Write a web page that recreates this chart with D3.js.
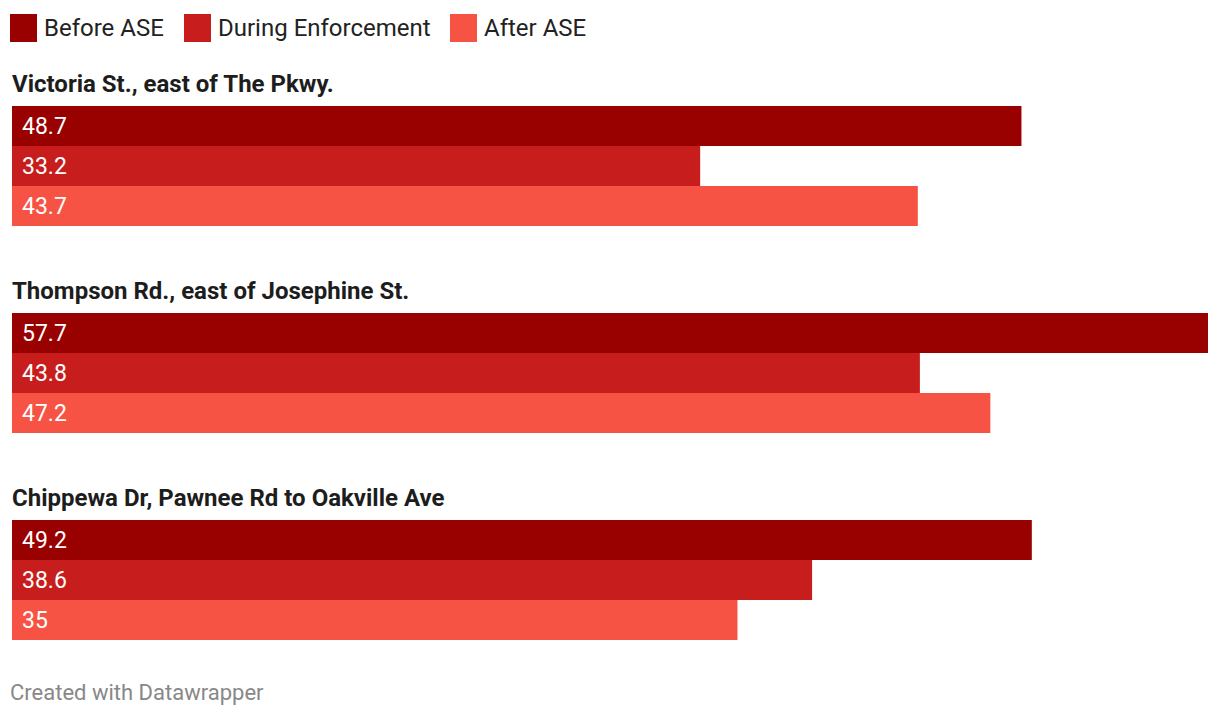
<!DOCTYPE html>
<html><head><meta charset="utf-8">
<script src="https://cdn.jsdelivr.net/npm/d3@7"></script>
<style>body{margin:0;background:#fff;font-family:Roboto,sans-serif}</style>
</head><body>
<svg id="c" width="1220" height="716"></svg>
<script>
const categories = ["Victoria St., east of The Pkwy.", "Thompson Rd., east of Josephine St.", "Chippewa Dr, Pawnee Rd to Oakville Ave"];
const seriesNames = ["Before ASE", "During Enforcement", "After ASE"];
const before = [48.7, 57.7, 49.2];
const during = [33.2, 43.8, 38.6];
const after = [43.7, 47.2, 35];
const colors = ["#990000", "#c71e1d", "#f65344"];

const series = [before, during, after];
const svg = d3.select("#c");
const x = d3.scaleLinear().domain([0, 57.7]).range([12, 1208]);
const groupY = d3.scalePoint().domain(categories).range([106, 520]);
const barY = d3.scaleBand().domain(seriesNames).range([0, 120]).padding(0);

// legend
const legendX = [10, 184, 450];
const lg = svg.selectAll("g.leg").data(seriesNames).join("g").attr("class","leg")
  .attr("transform", (d,i)=>`translate(${legendX[i]},14)`);
lg.append("rect").attr("width",27).attr("height",28).attr("fill",(d,i)=>colors[i]);
lg.append("text").attr("x",34).attr("y",22).attr("font-size",24).attr("fill","#222").text(d=>d);

const g = svg.selectAll("g.grp").data(categories).join("g").attr("class","grp")
  .attr("transform", d=>`translate(0,${groupY(d)})`);
g.append("text").attr("x",12).attr("y",-14).attr("font-size",24).attr("font-weight","bold").attr("fill","#1d1d1d").text(d=>d);
g.each(function(cat, ci){
  const sel = d3.select(this);
  const rows = seriesNames.map((s,si)=>({s, v: series[si][ci], c: colors[si]}));
  sel.selectAll("rect").data(rows).join("rect")
    .attr("x", x(0)).attr("y", d=>barY(d.s)).attr("width", d=>x(d.v)-x(0)).attr("height", barY.bandwidth())
    .attr("fill", d=>d.c);
  sel.selectAll("text.val").data(rows).join("text").attr("class","val")
    .attr("x", 22).attr("y", d=>barY(d.s)+barY.bandwidth()/2).attr("dy","0.35em")
    .attr("font-size",23).attr("fill","#fff").text(d=>d.v);
});

svg.append("text").attr("x",10).attr("y",700).attr("font-size",22).attr("fill","#888").text("Created with Datawrapper");
</script>
</body></html>
